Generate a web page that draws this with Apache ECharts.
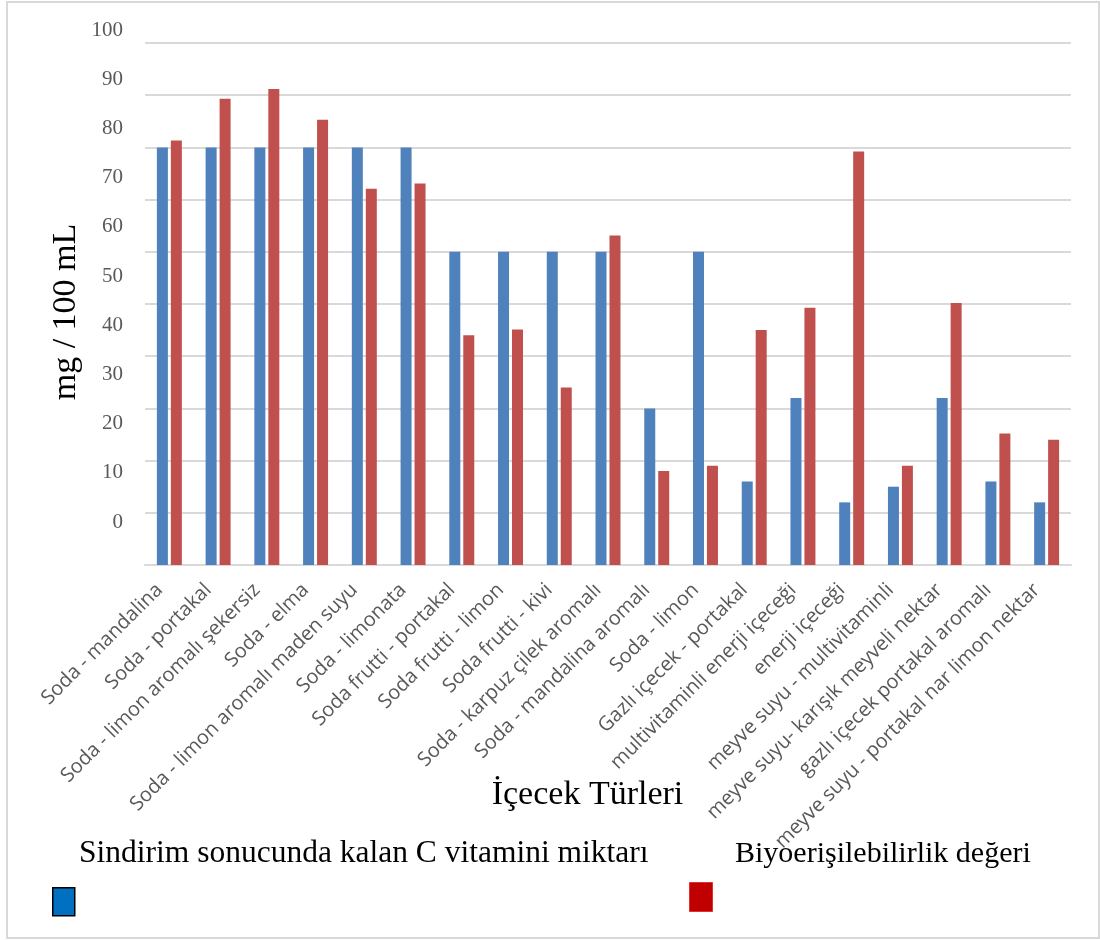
<!DOCTYPE html>
<html>
<head>
<meta charset="utf-8">
<script src="https://cdn.jsdelivr.net/npm/echarts@6/dist/echarts.min.js"></script>
<style>
html,body{margin:0;padding:0;background:#fff;}
#chart{width:1100px;height:940px;}
</style>
</head>
<body>
<div id="chart"></div>
<script>
const categories = [
  'Soda - mandalina',
  'Soda - portakal',
  'Soda - limon aromalı şekersiz',
  'Soda - elma',
  'Soda - limon aromalı maden suyu',
  'Soda - limonata',
  'Soda frutti - portakal',
  'Soda frutti - limon',
  'Soda frutti - kivi',
  'Soda - karpuz çilek aromalı',
  'Soda - mandalina aromalı',
  'Soda - limon',
  'Gazlı içecek - portakal',
  'multivitaminli enerji içeceği',
  'enerji içeceği',
  'meyve suyu - multivitaminli',
  'meyve suyu- karışık meyveli nektar',
  'gazlı içecek portakal aromalı',
  'meyve suyu - portakal nar limon nektar'
];
const seriesNames = ['Sindirim sonucunda kalan C vitamini miktarı', 'Biyoerişilebilirlik değeri'];
const vitaminC = [80, 80, 80, 80, 80, 80, 60, 60, 60, 60, 30, 60, 16, 32, 12, 15, 32, 16, 12];
const bioaccess = [81.3, 89.3, 91.2, 85.3, 72.1, 73.1, 44, 45.1, 34, 63.1, 18, 19, 45, 49.3, 79.2, 19, 50.2, 25.2, 24];
const yTickLabels = [0, 10, 20, 30, 40, 50, 60, 70, 80, 90, 100];
const yAxisTitle = 'mg / 100 mL';
const xAxisTitle = 'İçecek Türleri';

const serif = 'Liberation Serif';
const yMin = yTickLabels[0];
const yMax = yTickLabels[yTickLabels.length - 1];
const yStep = yTickLabels[1] - yTickLabels[0];

const chart = echarts.init(document.getElementById('chart'), null, {renderer: 'canvas'});
const option = {
  backgroundColor: '#fff',
  animation: false,
  graphic: [{
    type: 'rect', z: -10, silent: true,
    shape: {x: 7, y: 2, width: 1092, height: 936},
    style: {fill: 'none', stroke: '#d9d9d9', lineWidth: 2}
  }],
  grid: [
    {left: 145, right: 29, top: 43, bottom: 375},
    {left: 145, right: 29, top: 30, bottom: 418}
  ],
  xAxis: [{
    type: 'category',
    gridIndex: 0,
    data: categories,
    axisLine: {lineStyle: {color: '#d9d9d9', width: 2}},
    axisTick: {show: false},
    axisLabel: {
      interval: 0, rotate: 45, margin: 12,
      color: '#595959', fontFamily: 'Open Sans', fontSize: 20,
      padding: [0, 14, 0, 0]
    },
    name: xAxisTitle,
    nameLocation: 'middle',
    nameGap: 213,
    nameMoveOverlap: false,
    nameTextStyle: {fontFamily: serif, fontSize: 34, color: '#000', padding: [0, 41, 0, 0]}
  }, {
    type: 'category', gridIndex: 1, data: [''], show: false
  }],
  yAxis: [{
    type: 'value', gridIndex: 0,
    min: yMin, max: yMax, interval: yStep,
    axisLabel: {show: false},
    axisLine: {show: false},
    axisTick: {show: false},
    splitLine: {lineStyle: {color: '#d9d9d9', width: 2}},
    name: yAxisTitle,
    nameLocation: 'middle',
    nameRotate: 90,
    nameGap: 62,
    nameMoveOverlap: false,
    nameTextStyle: {fontFamily: serif, fontSize: 34, color: '#000', padding: [0, 16, 0, 0]}
  }, {
    type: 'value', gridIndex: 1,
    min: yMin, max: yMax, interval: yStep,
    axisLine: {show: false},
    axisTick: {show: false},
    splitLine: {show: false},
    axisLabel: {margin: 22, color: '#595959', fontFamily: serif, fontSize: 21}
  }],
  legend: [{
    data: [seriesNames[0]], selectedMode: false, padding: 0,
    left: 74, top: 838, itemWidth: 0, itemHeight: 0, icon: 'rect',
    textStyle: {fontFamily: serif, fontSize: 31.5, color: '#000'}
  }, {
    data: [seriesNames[1]], selectedMode: false, padding: 0,
    left: 730, top: 839, itemWidth: 0, itemHeight: 0, icon: 'rect',
    textStyle: {fontFamily: serif, fontSize: 30, color: '#000'}
  }, {
    data: [{name: seriesNames[0], icon: 'rect', itemStyle: {color: '#0070c0', borderColor: '#000', borderWidth: 1.5}}],
    selectedMode: false, padding: 0, formatter: () => '',
    left: 52, top: 887, itemWidth: 22, itemHeight: 28
  }, {
    data: [{name: seriesNames[1], icon: 'rect', itemStyle: {color: '#c00000', borderColor: '#e03030', borderWidth: 1}}],
    selectedMode: false, padding: 0, formatter: () => '',
    left: 689, top: 882, itemWidth: 23, itemHeight: 29
  }],
  series: [{
    name: seriesNames[0], type: 'bar', data: vitaminC,
    xAxisIndex: 0, yAxisIndex: 0,
    barWidth: 11, barGap: '27%',
    itemStyle: {color: '#4f81bd'}
  }, {
    name: seriesNames[1], type: 'bar', data: bioaccess,
    xAxisIndex: 0, yAxisIndex: 0,
    barWidth: 11, barGap: '27%',
    itemStyle: {color: '#c0504d'}
  }]
};
chart.setOption(option);
</script>
</body>
</html>
